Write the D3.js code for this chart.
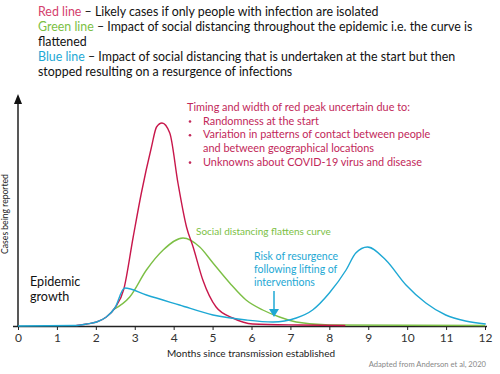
<!DOCTYPE html>
<html>
<head>
<meta charset="utf-8">
<script src="https://cdn.jsdelivr.net/npm/d3@7"></script>
<style>
  body { margin: 0; background: #fff; }
  svg text { font-family: Lato, "Open Sans", sans-serif; }
</style>
</head>
<body>
<div id="chart"></div>
<script>
const width = 500, height = 374;

// months since transmission, relative cases reported
const monthTicks = [0, 1, 2, 3, 4, 5, 6, 7, 8, 9, 10, 11, 12];

const redMonths = [1.5, 1.76, 2.02, 2.27, 2.49, 2.72, 2.96, 3.17, 3.43, 3.56, 3.70, 3.90, 4.11, 4.33, 4.50, 4.75, 5.09, 5.52, 6.03, 7.23, 8.41];
const redCases  = [0.5, 2, 4, 9, 18, 37, 89, 133, 179, 199, 203, 193, 143, 99, 79, 46, 19, 8, 2, 1, 0.5];

const greenMonths = [2.44, 2.87, 3.30, 3.73, 4.24, 4.67, 5.01, 5.44, 5.86, 6.29, 6.72, 7.15, 8.0, 12];
const greenCases  = [16, 29, 56, 76, 88, 79, 63, 43, 26, 16, 9, 4, 1, 0.5];

const blueMonths = [0, 1.5, 1.76, 2.02, 2.27, 2.49, 2.74, 3.30, 4.15, 5.01, 5.86, 6.55, 7.15, 7.57, 8.0, 8.43, 8.68, 8.98, 9.45, 9.97, 10.48, 10.99, 11.5, 12.02];
const blueCases  = [0, 0.5, 2, 4, 9, 18, 38, 31, 21, 11, 6, 4, 8, 16, 33, 56, 73, 79, 66, 41, 23, 11, 5, 2];

const RED = "#c8174b", GREEN = "#7cbf45", BLUE = "#1ea8d4", NOTE_RED = "#c2285a";

let svg = d3.select("#chart")
    .append("svg")
    .attr("width", width)
    .attr("height", height);

let x = d3.scaleLinear().domain([0, 12]).range([18, 485]);
let y = d3.scaleLinear().domain([0, 231]).range([326, 95]);

// header text
let header = svg.append("text")
    .attr("x", 38)
    .attr("y", 16)
    .style("font-size", "12.4px")
    .style("fill", "#111");
const headerLines = [
    [["Red line", "#d4416d"], [" – Likely cases if only people with infection are isolated", "#111"]],
    [["Green line", GREEN], [" – Impact of social distancing throughout the epidemic i.e. the curve is", "#111"]],
    [["flattened", "#111"]],
    [["Blue line", BLUE], [" – Impact of social distancing that is undertaken at the start but then", "#111"]],
    [["stopped resulting on a resurgence of infections", "#111"]]
];
headerLines.forEach(function(parts, i) {
    parts.forEach(function(p, j) {
        let t = header.append("tspan").text(p[0]).style("fill", p[1]);
        if (j == 0) t.attr("x", 38).attr("dy", i == 0 ? 0 : 15.1);
    });
});

// axes
let xAxis = svg.append("g")
    .attr("transform", `translate(0, ${y(0)})`)
    .call(d3.axisBottom(x).tickValues(monthTicks).tickSize(4).tickSizeOuter(0).tickPadding(3));
xAxis.select(".domain").attr("d", `M13,0.5H487`).attr("stroke", "#222").attr("stroke-width", 1.3);
xAxis.selectAll(".tick line").attr("stroke", "#222");
xAxis.selectAll(".tick text")
    .style("font-size", "12px")
    .style("fill", "#333")
    .style("font-family", "Lato, sans-serif");

svg.append("line")
    .attr("x1", x(0)).attr("x2", x(0))
    .attr("y1", y(0)).attr("y2", 103)
    .attr("stroke", "#111").attr("stroke-width", 1.4);
svg.append("path")
    .attr("d", `M${x(0) - 4},${104} L${x(0)},${94} L${x(0) + 4},${104} Z`)
    .attr("fill", "#111");

svg.append("text")
    .attr("transform", `translate(8, 214) rotate(-90)`)
    .style("text-anchor", "middle")
    .style("font-size", "8.6px")
    .style("fill", "#222")
    .text("Cases being reported");

svg.append("text")
    .attr("x", 251)
    .attr("y", 357)
    .style("text-anchor", "middle")
    .style("font-size", "10px")
    .style("fill", "#222")
    .text("Months since transmission established");

svg.append("text")
    .attr("x", 486)
    .attr("y", 367)
    .style("text-anchor", "end")
    .style("font-size", "7.6px")
    .style("fill", "#888")
    .text("Adapted from Anderson et al, 2020");

// curves
let line = d3.line()
    .x(function(d) { return x(d[0]); })
    .y(function(d) { return y(d[1]); })
    .curve(d3.curveMonotoneX);

const series = [
    [greenMonths, greenCases, GREEN],
    [redMonths, redCases, RED],
    [blueMonths, blueCases, BLUE]
];
series.forEach(function(s) {
    svg.append("path")
        .datum(d3.zip(s[0], s[1]))
        .attr("fill", "none")
        .attr("stroke", s[2])
        .attr("stroke-width", 1.4)
        .attr("d", line);
});

// annotations
let note = svg.append("text")
    .attr("x", 187)
    .attr("y", 111)
    .style("font-size", "10.9px")
    .style("fill", NOTE_RED);
note.append("tspan").attr("x", 187).text("Timing and width of red peak uncertain due to:");
const bullets = ["Randomness at the start", "Variation in patterns of contact between people", "and between geographical locations", "Unknowns about COVID-19 virus and disease"];
bullets.forEach(function(b, i) {
    if (i != 2) {
        svg.append("circle")
            .attr("cx", 190).attr("cy", 121.5 + i * 13.7)
            .attr("r", 1.3).attr("fill", NOTE_RED);
    }
    note.append("tspan").attr("x", 203).attr("dy", 13.7).text(b);
});

svg.append("text")
    .attr("x", 196)
    .attr("y", 235)
    .style("font-size", "10px")
    .style("fill", GREEN)
    .text("Social distancing flattens curve");

let risk = svg.append("text")
    .attr("x", 254)
    .attr("y", 260)
    .style("font-size", "10.5px")
    .style("fill", BLUE);
["Risk of resurgence", "following lifting of", "interventions"].forEach(function(t, i) {
    risk.append("tspan").attr("x", 254).attr("dy", i == 0 ? 0 : 13.2).text(t);
});

svg.append("line")
    .attr("x1", 274).attr("x2", 274)
    .attr("y1", 291).attr("y2", 310)
    .attr("stroke", BLUE).attr("stroke-width", 1.5);
svg.append("path")
    .attr("d", "M269,309 L279,309 L274,317 Z")
    .attr("fill", BLUE);

let growth = svg.append("text")
    .attr("x", 30)
    .attr("y", 286)
    .style("font-size", "12.6px")
    .style("fill", "#111");
growth.append("tspan").attr("x", 30).text("Epidemic");
growth.append("tspan").attr("x", 30).attr("dy", 15).text("growth");
</script>
</body>
</html>
